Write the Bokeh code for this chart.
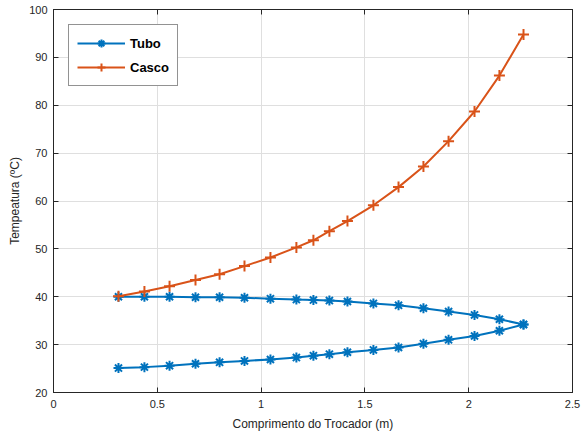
from bokeh.plotting import figure
from bokeh.models import (Range1d, LinearAxis, SingleIntervalTicker, NumeralTickFormatter,
                          Legend, LegendItem, Grid)
from bokeh.embed import file_html
from bokeh.resources import INLINE

# --- data ---
comprimento = [0.313, 0.438, 0.559, 0.684, 0.800, 0.920, 1.045, 1.170, 1.252, 1.329,
               1.416, 1.541, 1.662, 1.782, 1.903, 2.028, 2.148, 2.264]
tubo_entrada = [25.1, 25.3, 25.6, 26.0, 26.3, 26.6, 26.9, 27.3, 27.7, 28.0,
                28.4, 28.9, 29.4, 30.2, 31.0, 31.8, 32.9, 34.2]
tubo_retorno = [40.0, 40.0, 40.0, 39.9, 39.9, 39.8, 39.6, 39.4, 39.3, 39.2,
                39.0, 38.6, 38.2, 37.6, 36.9, 36.2, 35.3, 34.2]
casco = [40.1, 41.1, 42.2, 43.5, 44.7, 46.4, 48.2, 50.3, 51.8, 53.7,
         55.8, 59.1, 62.9, 67.2, 72.5, 78.7, 86.2, 94.8]
x_ticks_interval = 0.5
y_ticks_interval = 10

BLUE = "#0072BD"
ORANGE = "#D95319"
FONT = "Liberation Sans"
TXT = "#262626"

p = figure(width=581, height=436, output_backend="svg", toolbar_location=None,
           x_range=Range1d(0, 2.5), y_range=Range1d(20, 100),
           min_border_left=53, min_border_right=9, min_border_top=9, min_border_bottom=44)
p.xaxis.visible = False
p.yaxis.visible = False
p.background_fill_color = "white"
p.border_fill_color = "white"
p.outline_line_color = "#262626"
p.outline_line_width = 1

def style_axis(ax, show_labels):
    ax.axis_line_color = "#262626"
    ax.axis_line_width = 1
    ax.major_tick_in = 5
    ax.major_tick_out = 0
    ax.minor_tick_in = 0
    ax.minor_tick_out = 0
    ax.major_tick_line_color = "#262626"
    if show_labels:
        ax.major_label_text_font = FONT
        ax.major_label_text_font_size = "11px"
        ax.major_label_text_color = TXT
        ax.axis_label_text_font = FONT
        ax.axis_label_text_font_size = "12px"
        ax.axis_label_text_font_style = "normal"
        ax.axis_label_text_color = TXT
    else:
        ax.major_label_text_font_size = "1px"
        ax.major_label_text_color = None
        ax.major_label_standoff = 0

xt = SingleIntervalTicker(interval=x_ticks_interval, num_minor_ticks=0)
yt = SingleIntervalTicker(interval=y_ticks_interval, num_minor_ticks=0)
fmt = NumeralTickFormatter(format="0.[0]")

xb = LinearAxis(ticker=xt, formatter=fmt, axis_label="Comprimento do Trocador (m)")
style_axis(xb, True)
xb.major_label_standoff = 7
xb.axis_label_standoff = 6
p.add_layout(xb, "below")

yl = LinearAxis(ticker=yt, axis_label="Tempeatura (ºC)")
style_axis(yl, True)
yl.major_label_standoff = 6
yl.axis_label_standoff = 4
p.add_layout(yl, "left")

xa = LinearAxis(ticker=xt)
style_axis(xa, False)
p.add_layout(xa, "above")
yr = LinearAxis(ticker=yt)
style_axis(yr, False)
p.add_layout(yr, "right")

p.xgrid.visible = False
p.ygrid.visible = False
p.add_layout(Grid(dimension=0, ticker=xt, grid_line_color="#dfdfdf", grid_line_width=1))
p.add_layout(Grid(dimension=1, ticker=yt, grid_line_color="#dfdfdf", grid_line_width=1))

l1 = p.line(comprimento, tubo_entrada, line_color=BLUE, line_width=2)
s1 = p.scatter(comprimento, tubo_entrada, marker="asterisk", size=10, line_color=BLUE, line_width=2)
l2 = p.line(comprimento, tubo_retorno, line_color=BLUE, line_width=2)
s2 = p.scatter(comprimento, tubo_retorno, marker="asterisk", size=10, line_color=BLUE, line_width=2)
l3 = p.line(comprimento, casco, line_color=ORANGE, line_width=2)
s3 = p.scatter(comprimento, casco, marker="cross", size=11, line_color=ORANGE, line_width=2)

legend = Legend(items=[LegendItem(label="Tubo", renderers=[l1, s1]),
                       LegendItem(label="Casco", renderers=[l3, s3])],
                location="top_left", margin=15, padding=8, spacing=4,
                glyph_width=48, glyph_height=20, label_height=20, label_standoff=5,
                label_text_font=FONT, label_text_font_size="13px",
                label_text_font_style="bold", label_text_color="black",
                border_line_color="#262626", border_line_width=1,
                background_fill_color="white", background_fill_alpha=1)
p.add_layout(legend, "center")

open("out.html", "w").write(file_html(p, INLINE))
